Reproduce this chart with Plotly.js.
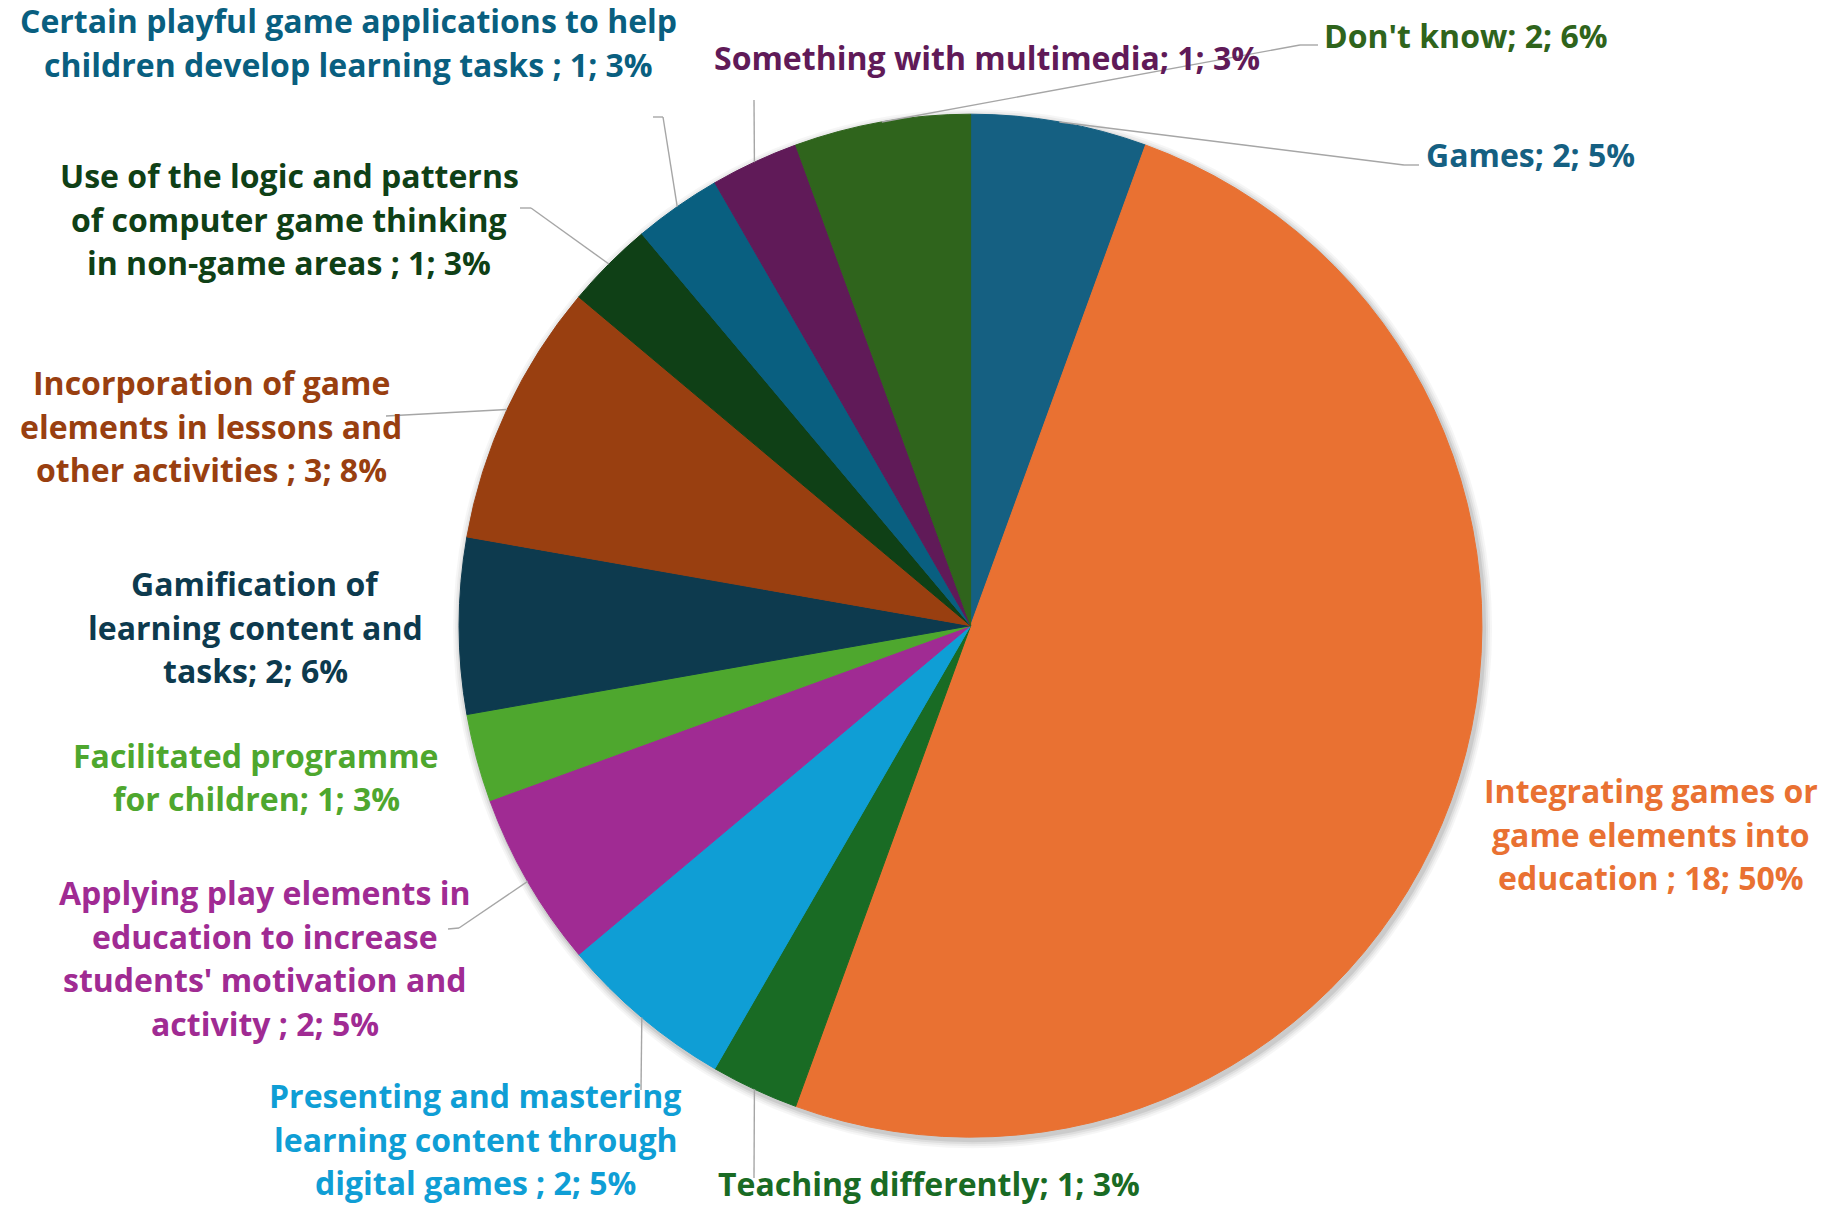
<!DOCTYPE html>
<html><head><meta charset="utf-8">
<script src="https://cdn.plot.ly/plotly-3.0.1.min.js"></script>
<style>html,body{margin:0;padding:0;background:#fff}</style>
</head><body><div id="chart" style="width:1827px;height:1205px"></div>
<script>
// ---- data ----
const categories = [
  "Games",
  "Integrating games or game elements into education ",
  "Teaching differently",
  "Presenting and mastering learning content through digital games ",
  "Applying play elements in education to increase students' motivation and activity ",
  "Facilitated programme for children",
  "Gamification of learning content and tasks",
  "Incorporation of game elements in lessons and other activities ",
  "Use of the logic and patterns of computer game thinking in non-game areas ",
  "Certain playful game applications to help children develop learning tasks ",
  "Something with multimedia",
  "Don't know"
];
const counts = [2, 18, 1, 2, 2, 1, 2, 3, 1, 1, 1, 2];
const percentLabels = ["5%", "50%", "3%", "5%", "5%", "3%", "6%", "8%", "3%", "3%", "3%", "6%"];
const colors = ["#156082", "#E97132", "#196B24", "#0F9ED5", "#A02B93", "#4EA72E",
                "#0D3A4E", "#993F10", "#0F4016", "#095F80", "#601A58", "#2F641C"];

// ---- layout (pixels) ----
const W = 1827, H = 1205;
const CX = 970.6, CY = 625.7, R = 511.5;
const FONT = "Open Sans, Arial, sans-serif";
const FS = 32;
const LH = 43.7;
// words per line (all lines except last)
const wordBreaks = [[], [3,3], [], [3,3], [4,3,3], [2], [2,3], [3,4], [6,4], [6], [], []];
// label anchor [x, y, xanchor]
const labelPos = [
  [1424, 155, "left"], [1651, 834, "center"], [929, 1183, "center"], [475, 1139, "center"],
  [264.5, 958, "center"], [256, 777, "center"], [255, 627, "center"], [211, 426, "center"],
  [289, 219, "center"], [348, 42.5, "center"], [987, 57, "center"], [1322, 35, "left"]
];
// leader line points from the label side (edge point computed from data)
const leaders = [
  [[1419,165],[1404,165]], null, [[754,1178]], [[641,1090]],
  [[448,929],[459,928]], null, null, [[386,416]],
  [[520,208],[531,208]], [[653,117],[663,117]], [[754,100]], [[1318,45],[1300,45]]
];

const px = x => x / W;
const py = y => 1 - y / H;

function wrap(text, breaks) {
  const words = text.split(" ").filter(w => w.length);
  const lines = [];
  let i = 0;
  breaks.forEach(n => { lines.push(words.slice(i, i + n).join(" ")); i += n; });
  lines.push(words.slice(i).join(" "));
  return lines;
}

const total = counts.reduce((a, b) => a + b, 0);
const annotations = [];
const shapes = [];

// soft shadow
[[8, 0.035], [6, 0.045], [4, 0.06], [2, 0.08]].forEach(([d, op]) => {
  shapes.push({type: "circle", xref: "paper", yref: "paper", layer: "below",
    x0: px(CX - R - d + 2), x1: px(CX + R + d + 2), y0: py(CY + R + d + 3), y1: py(CY - R - d + 3),
    fillcolor: "rgba(0,0,0," + op + ")", line: {width: 0}});
});

let cum = 0;
categories.forEach((cat, i) => {
  const mid = (cum + counts[i] / 2) / total * 2 * Math.PI;
  cum += counts[i];
  const lines = wrap(cat + "; " + counts[i] + "; " + percentLabels[i], wordBreaks[i]);
  const [lx, ly, xa] = labelPos[i];
  const n = lines.length;
  lines.forEach((line, k) => {
    annotations.push({
      xref: "paper", yref: "paper", x: px(lx), y: py(ly + (k - (n - 1) / 2) * LH),
      xanchor: xa, yanchor: "middle",
      text: line, showarrow: false, align: "center",
      font: {family: FONT, size: FS, color: colors[i], weight: "bold"}
    });
  });
  if (leaders[i]) {
    const edge = [CX + R * Math.sin(mid), CY - R * Math.cos(mid)];
    const pts = leaders[i].concat([edge]);
    for (let k = 0; k < pts.length - 1; k++) {
      shapes.push({type: "line", xref: "paper", yref: "paper", layer: "above",
        x0: px(pts[k][0]), y0: py(pts[k][1]), x1: px(pts[k+1][0]), y1: py(pts[k+1][1]),
        line: {color: "#A6A6A6", width: 1.4}});
    }
  }
});

const trace = {
  type: "pie",
  values: counts,
  labels: categories,
  sort: false,
  direction: "clockwise",
  rotation: 0,
  textinfo: "none",
  hoverinfo: "label+value+percent",
  marker: {colors: colors, line: {color: colors, width: 1}},
  domain: {x: [px(CX - R), px(CX + R)], y: [py(CY + R), py(CY - R)]},
  showlegend: false
};

const layout = {
  width: W, height: H,
  margin: {l: 0, r: 0, t: 0, b: 0},
  paper_bgcolor: "#ffffff",
  showlegend: false,
  annotations: annotations,
  shapes: shapes
};

Plotly.newPlot("chart", [trace], layout, {displayModeBar: false, staticPlot: true});
</script>
</body></html>
